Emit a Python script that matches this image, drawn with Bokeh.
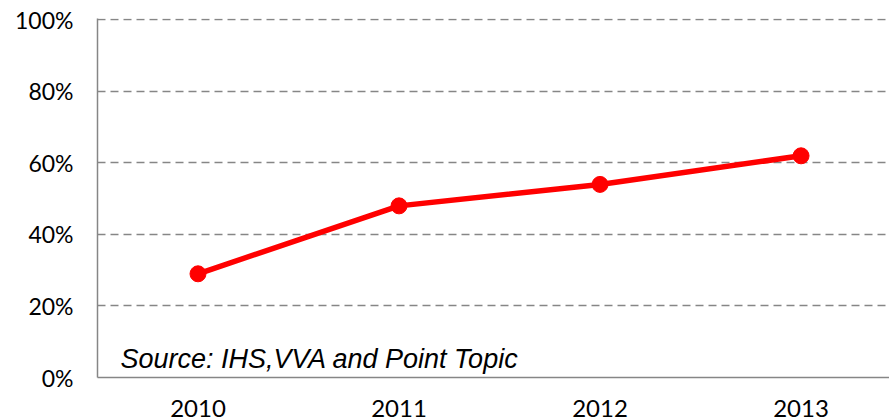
from bokeh.plotting import figure
from bokeh.models import Range1d, FixedTicker, Label
from bokeh.embed import file_html
from bokeh.resources import INLINE

years = ["2010", "2011", "2012", "2013"]
penetration = [29, 48, 54, 62]
y_ticks = [0, 20, 40, 60, 80, 100]
y_tick_labels = ["0%", "20%", "40%", "60%", "80%", "100%"]
source_note = "Source: IHS,VVA and Point Topic"

x_pos = list(range(len(years)))

p = figure(width=889, height=420, output_backend="svg", toolbar_location=None,
           x_range=Range1d(-0.5, 3.44), y_range=Range1d(0, 100.4),
           min_border_left=97, min_border_right=0, min_border_top=18, min_border_bottom=43)
p.outline_line_color = None
p.background_fill_color = "white"
p.border_fill_color = "white"

p.xgrid.grid_line_color = None
p.ygrid.ticker = FixedTicker(ticks=y_ticks)
p.ygrid.grid_line_color = "#868686"
p.ygrid.grid_line_width = 1.5
p.ygrid.grid_line_dash = "8 5"

p.yaxis.ticker = FixedTicker(ticks=y_ticks)
p.yaxis.major_label_overrides = {t: l for t, l in zip(y_ticks, y_tick_labels)}
p.xaxis.ticker = FixedTicker(ticks=x_pos)
p.xaxis.major_label_overrides = {i: y for i, y in zip(x_pos, years)}

for ax in (p.xaxis, p.yaxis):
    ax.axis_line_color = "#868686"
    ax.axis_line_width = 1.5
    ax.major_tick_line_color = None
    ax.minor_tick_line_color = None
    ax.major_tick_out = 0
    ax.major_tick_in = 0
    ax.major_label_text_font = "Lato"
    ax.major_label_text_color = "#000000"
p.yaxis.major_label_text_font_size = "23px"
p.xaxis.major_label_text_font_size = "24px"
p.yaxis.major_label_standoff = 24
p.xaxis.major_label_standoff = 22

p.line(x_pos, penetration, line_color="#FF0000", line_width=5.5)
p.scatter(x_pos, penetration, size=16, fill_color="#FF0000", line_color="#FF0000")

p.add_layout(Label(x=-0.386, y=5.2, text=source_note, text_font="Liberation Sans",
                   text_font_style="italic", text_font_size="27px", text_color="#000000",
                   text_baseline="alphabetic"))

open("out.html", "w").write(file_html(p, INLINE))
